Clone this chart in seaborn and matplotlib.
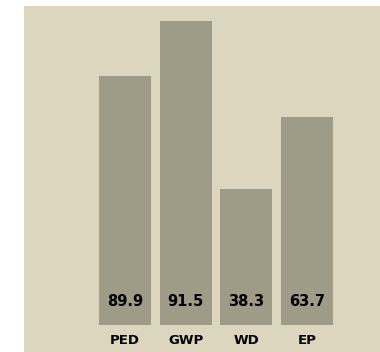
import matplotlib
matplotlib.use("Agg")
import matplotlib.pyplot as plt
import seaborn as sns
import pandas as pd

categories = ["PED", "GWP", "WD", "EP"]
bar_heights = [81.9, 100.0, 44.7, 68.4]   # relative bar heights (GWP = 100)
value_labels = ["89.9", "91.5", "38.3", "63.7"]

BG = "#DCD6BE"
BAR = "#9E9B87"

sns.set_theme(style="white")
plt.rcParams["font.family"] = ["DejaVu Sans"]

fig = plt.figure(figsize=(3.8, 3.52), dpi=100)
fig.patch.set_facecolor("white")
ax = fig.add_axes([24 / 380, 0, 356 / 380, 346 / 352])
ax.set_facecolor(BG)

df = pd.DataFrame({"cat": categories, "h": bar_heights})
sns.barplot(data=df, x="cat", y="h", color=BAR, saturation=1, width=0.857,
            linewidth=0, edgecolor="none", ax=ax)

ax.set_xlim(-1.665, 4.203)
ax.set_ylim(-8.88, 104.93)

for i, (c, v) in enumerate(zip(categories, value_labels)):
    ax.text(i, 7.6, v, ha="center", va="center", fontsize=10.5, fontweight="bold", color="#000000")
    ax.text(i, -4.95, c, ha="center", va="center", fontsize=9.5, fontweight="bold", color="#000000")

for s in ax.spines.values():
    s.set_visible(False)
ax.set_xticks([])
ax.set_yticks([])
ax.set_xlabel("")
ax.set_ylabel("")

fig.savefig("out.png", dpi=100, facecolor="white")
